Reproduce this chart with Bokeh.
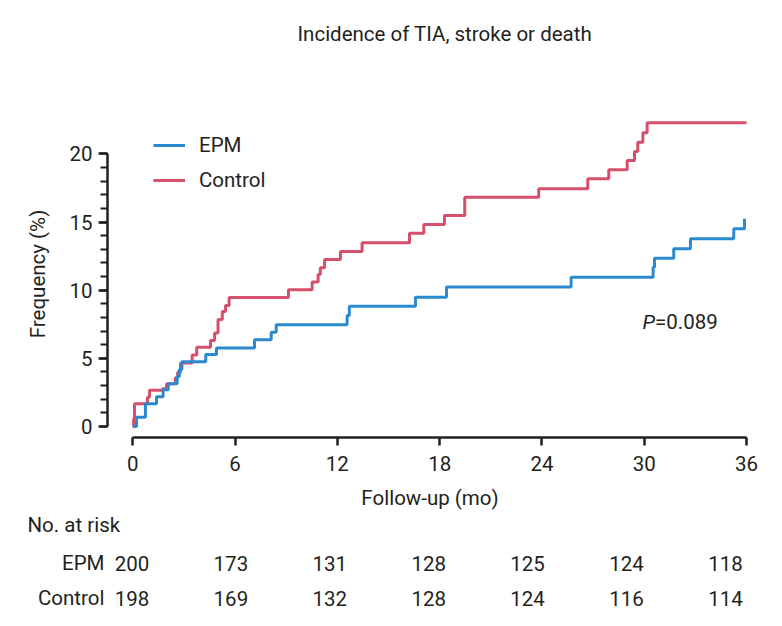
from bokeh.plotting import figure
from bokeh.models import (FixedTicker, Range1d, FactorRange, Legend, LegendItem,
                          Label, ColumnDataSource, Title)
from bokeh.layouts import column
from bokeh.embed import file_html
from bokeh.resources import INLINE
from bokeh.core.properties import value

# ---------------- data ----------------
control_months = [0, 0.05, 0.1, 0.86, 0.98, 1.75, 1.98, 2.5, 2.63, 2.8, 3.48, 3.75,
                  4.56, 4.8, 5.0, 5.25, 5.44, 5.65, 9.13, 10.52, 10.87, 11.0, 11.25,
                  12.18, 13.45, 16.23, 17.07, 18.28, 19.47, 23.81, 26.69, 27.92,
                  29.0, 29.43, 29.62, 29.92, 30.17, 36]
control_freq = [0, 0.56, 1.66, 2.15, 2.66, 2.76, 3.13, 3.57, 3.98, 4.65, 5.25, 5.82,
                6.3, 6.86, 7.84, 8.44, 8.88, 9.46, 10.03, 10.6, 11.15, 11.64, 12.25,
                12.84, 13.48, 14.18, 14.82, 15.48, 16.82, 17.44, 18.17, 18.83,
                19.52, 20.18, 20.86, 21.55, 22.28, 22.28]

epm_months = [0, 0.22, 0.74, 1.39, 1.78, 2.08, 2.6, 2.73, 2.88, 4.28, 4.91, 7.14,
              8.12, 8.41, 12.57, 12.7, 16.58, 18.4, 25.71, 30.52, 30.6, 31.73,
              32.71, 35.25, 35.88]
epm_freq = [0, 0.68, 1.66, 2.18, 2.69, 3.13, 3.67, 4.18, 4.75, 5.28, 5.76, 6.36,
            6.92, 7.46, 8.14, 8.82, 9.49, 10.24, 10.95, 11.69, 12.35, 13.04,
            13.77, 14.5, 15.24]

risk_months = [0, 6, 12, 18, 24, 30, 36]
risk_epm = [200, 173, 131, 128, 125, 124, 118]
risk_control = [198, 169, 132, 128, 124, 116, 114]
risk_groups = ["Control", "EPM"]

x_ticks = [0, 6, 12, 18, 24, 30, 36]
y_ticks = [0, 5, 10, 15, 20]
y_minor = list(range(0, 21))

title_text = "Incidence of TIA, stroke or death"
risk_header = "No. at risk"
p_value_text = "=0.089"

# ---------------- style / placement ----------------
FONT = "Roboto"
FS = "20.5px"
TXT = "#231f20"
BLUE = "#2a8ad0"
RED = "#d64f6b"
W = 774
P_X, P_Y = 30.63, 7.63               # data coords of the P value

# ---------------- title strip ----------------
p0 = figure(width=W, height=53, output_backend="svg", toolbar_location=None,
            x_axis_location=None, y_axis_location=None,
            min_border_left=107, min_border_right=22, min_border_top=50,
            min_border_bottom=0)
p0.outline_line_color = None
p0.grid.visible = False
p0.title.text = title_text
p0.title.align = "left"
p0.title.offset = 190
p0.title.standoff = 10
p0.title.text_font = FONT
p0.title.text_font_size = FS
p0.title.text_font_style = "normal"
p0.title.text_color = TXT

# ---------------- main plot ----------------
p = figure(width=W, height=492,
           x_range=Range1d(-1.484, 36.35), y_range=Range1d(-0.807, 23.18),
           output_backend="svg", toolbar_location=None,
           min_border_left=107, min_border_right=22, min_border_top=57,
           min_border_bottom=108)
p.outline_line_color = None
p.grid.visible = False
p.background_fill_color = "white"

xa = p.xaxis[0]
ya = p.yaxis[0]

r_ctrl = p.step(control_months, control_freq, mode="after", line_width=3, line_color=RED)
r_epm = p.step(epm_months, epm_freq, mode="after", line_width=3, line_color=BLUE)

xa.ticker = FixedTicker(ticks=x_ticks)
xa.bounds = (0, 36)
xa.axis_label = "Follow-up (mo)"
ya.ticker = FixedTicker(ticks=y_ticks, minor_ticks=y_minor)
ya.bounds = (0, 20)
ya.axis_label = "Frequency (%)"
for ax in (xa, ya):
    ax.axis_line_width = 2.5
    ax.axis_line_color = TXT
    ax.major_tick_line_color = TXT
    ax.major_tick_line_width = 2.5
    ax.minor_tick_line_color = TXT
    ax.minor_tick_line_width = 2
    ax.major_tick_in = 0
    ax.minor_tick_in = 0
    ax.major_label_text_font = FONT
    ax.major_label_text_font_size = FS
    ax.major_label_text_color = TXT
    ax.axis_label_text_font = FONT
    ax.axis_label_text_font_size = FS
    ax.axis_label_text_font_style = "normal"
    ax.axis_label_text_color = TXT
xa.major_tick_out = 8
xa.minor_tick_out = 0
xa.major_label_standoff = 10
xa.axis_label_standoff = 12
ya.major_tick_out = 9
ya.minor_tick_out = 7
ya.major_label_standoff = 6
ya.axis_label_standoff = 16

# risk-table header, stacked under the x axis
header = Title(text=risk_header, align="left", offset=-80, vertical_align="top",
               standoff=0, text_font=FONT, text_font_size=FS,
               text_font_style="normal", text_color=TXT)
p.add_layout(header, "below")

legend = Legend(items=[LegendItem(label="EPM", renderers=[r_epm]),
                       LegendItem(label="Control", renderers=[r_ctrl])],
                location=(46, 245), padding=0, margin=0, spacing=11,
                glyph_width=32, glyph_height=24, label_height=24, label_standoff=14,
                border_line_color=None, background_fill_alpha=0,
                label_text_font=FONT, label_text_font_size=FS, label_text_color=TXT)
p.add_layout(legend)

p.add_layout(Label(x=P_X, y=P_Y, text="P", text_align="right", text_baseline="middle",
                   text_font=FONT, text_font_size=FS, text_font_style="italic",
                   text_color=TXT))
p.add_layout(Label(x=P_X, y=P_Y, text=p_value_text, text_align="left",
                   text_baseline="middle", text_font=FONT, text_font_size=FS,
                   text_color=TXT))

# ---------------- risk table ----------------
p2 = figure(width=W, height=72, x_range=Range1d(-1.484, 37.642),
            y_range=FactorRange(factors=risk_groups),
            output_backend="svg", toolbar_location=None, x_axis_location=None,
            min_border_left=107, min_border_right=0, min_border_top=0,
            min_border_bottom=2)
p2.outline_line_color = None
p2.grid.visible = False

ya2 = p2.yaxis[0]
ya2.axis_line_color = None
ya2.major_tick_line_color = None
ya2.minor_tick_line_color = None
ya2.major_tick_out = 0
ya2.major_label_standoff = 3
ya2.major_label_text_font = FONT
ya2.major_label_text_font_size = FS
ya2.major_label_text_color = TXT

src = ColumnDataSource(dict(
    x=risk_months + risk_months,
    g=["EPM"] * len(risk_epm) + ["Control"] * len(risk_control),
    t=[str(v) for v in risk_epm] + [str(v) for v in risk_control]))
p2.text(x="x", y="g", text="t", source=src, text_align="center",
        text_baseline="middle", text_font=value(FONT), text_font_size=value(FS),
        text_color=TXT)

layout = column(p0, p, p2, spacing=0)
open("out.html", "w").write(file_html(layout, INLINE))
